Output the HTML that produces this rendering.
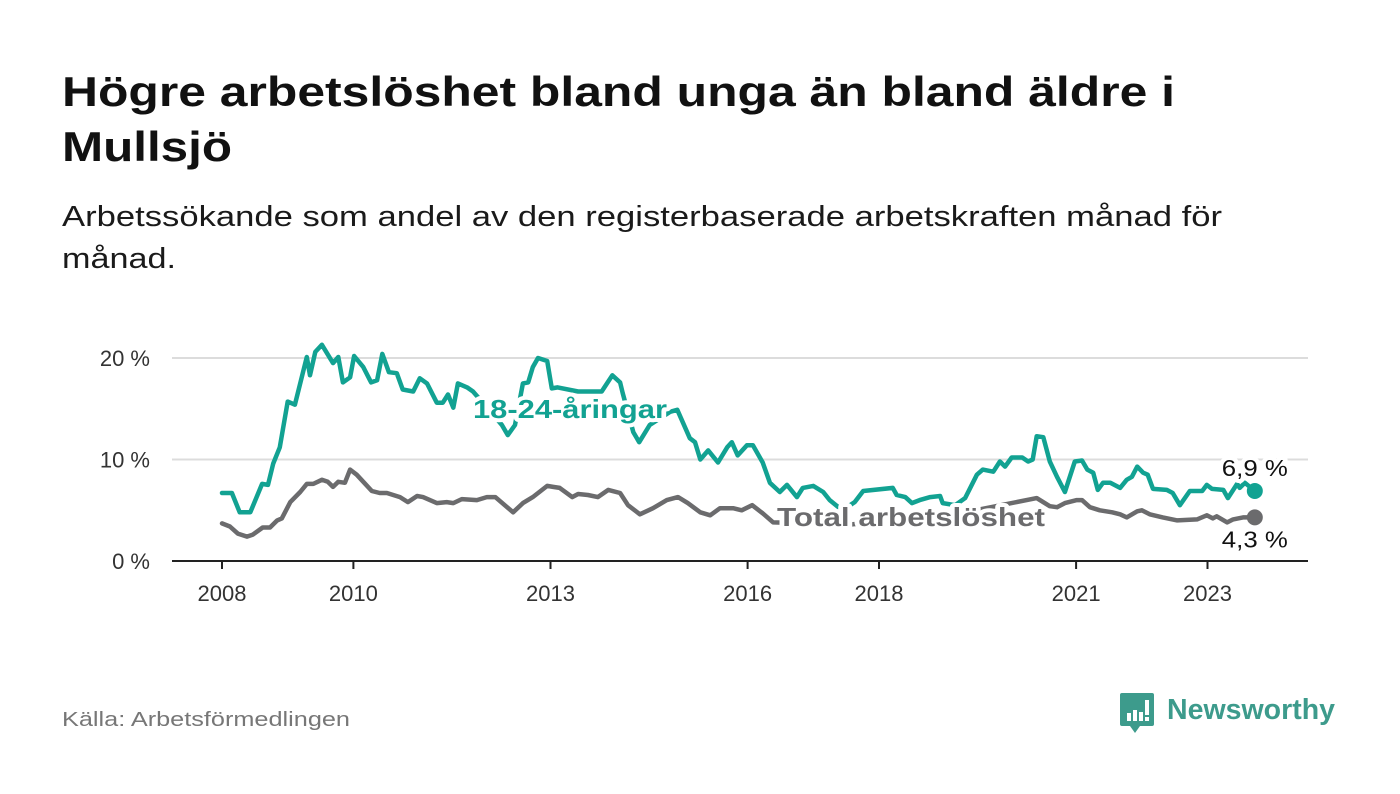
<!DOCTYPE html>
<html><head><meta charset="utf-8"><style>
html,body{margin:0;padding:0;background:#fff;}
svg{display:block;font-family:"Liberation Sans","DejaVu Sans",sans-serif;}
</style></head><body>
<svg id="chart" width="1400" height="794" viewBox="0 0 1400 794">
<text x="62" y="106" font-size="42" font-weight="bold" fill="#111" textLength="1113" lengthAdjust="spacingAndGlyphs">Högre arbetslöshet bland unga än bland äldre i</text>
<text x="62" y="161" font-size="42" font-weight="bold" fill="#111" textLength="170" lengthAdjust="spacingAndGlyphs">Mullsjö</text>
<text x="62" y="226" font-size="29" fill="#1a1a1a" textLength="1160" lengthAdjust="spacingAndGlyphs">Arbetssökande som andel av den registerbaserade arbetskraften månad för</text>
<text x="62" y="268" font-size="29" fill="#1a1a1a" textLength="114" lengthAdjust="spacingAndGlyphs">månad.</text>
<g id="grid"></g>
<g id="yticks"></g>
<g id="xticks"></g>
<g id="lines"></g>
<g id="labels"></g>
<text x="62" y="726" font-size="20" fill="#777" textLength="288" lengthAdjust="spacingAndGlyphs">Källa: Arbetsförmedlingen</text>
<g>
<path d="M1122 693 h30 a2 2 0 0 1 2 2 v29 a2 2 0 0 1 -2 2 h-12 l-5 7 l-5 -7 h-8 a2 2 0 0 1 -2 -2 v-29 a2 2 0 0 1 2 -2z" fill="#3d9b8c"/>
<rect x="1127" y="713" width="4" height="8" fill="#fff"/><rect x="1133" y="710" width="4" height="11" fill="#fff"/><rect x="1139" y="712" width="4" height="9" fill="#fff"/><rect x="1145" y="700" width="4" height="15" fill="#fff"/><rect x="1145" y="717" width="4" height="4" fill="#fff"/>
<text x="1167" y="719" font-size="29" font-weight="bold" fill="#3d9b8c" textLength="168" lengthAdjust="spacingAndGlyphs">Newsworthy</text>
</g>
</svg>
<script>
const youngT=[0,0.15,0.27,0.43,0.61,0.70,0.78,0.88,1.00,1.11,1.29,1.34,1.42,1.52,1.69,1.77,1.84,1.95,2.01,2.15,2.27,2.36,2.44,2.54,2.66,2.75,2.91,3.01,3.12,3.27,3.36,3.44,3.52,3.59,3.73,3.82,4.05,4.26,4.35,4.46,4.58,4.66,4.73,4.81,4.95,5.02,5.11,5.42,5.78,5.94,6.06,6.10,6.26,6.35,6.51,6.82,6.93,7.12,7.20,7.28,7.40,7.55,7.69,7.76,7.85,7.99,8.08,8.23,8.34,8.49,8.60,8.75,8.84,9.00,9.15,9.25,9.44,9.63,9.76,10.21,10.27,10.40,10.50,10.62,10.78,10.93,10.97,11.16,11.31,11.49,11.58,11.74,11.84,11.92,12.02,12.18,12.27,12.34,12.40,12.50,12.60,12.71,12.83,12.98,13.09,13.17,13.26,13.33,13.41,13.52,13.67,13.77,13.85,13.93,14.02,14.09,14.17,14.38,14.47,14.58,14.73,14.92,14.99,15.07,15.24,15.31,15.45,15.49,15.57,15.72];
const youngV=[6.7,6.7,4.8,4.8,7.6,7.5,9.6,11.2,15.7,15.4,20.1,18.3,20.6,21.3,19.5,20.1,17.6,18.1,20.2,19.1,17.6,17.8,20.4,18.6,18.5,16.9,16.7,18.0,17.5,15.6,15.6,16.4,15.1,17.5,17.1,16.7,15.0,13.4,12.4,13.4,17.5,17.6,19.1,20.0,19.7,17.0,17.1,16.7,16.7,18.3,17.6,16.5,12.7,11.7,13.4,14.7,14.9,12.1,11.7,10.0,10.9,9.7,11.2,11.7,10.4,11.4,11.4,9.7,7.7,6.8,7.5,6.3,7.2,7.4,6.8,6.0,5.0,5.8,6.9,7.2,6.5,6.3,5.7,6.0,6.3,6.4,5.7,5.5,6.2,8.5,9.0,8.8,9.8,9.3,10.2,10.2,9.8,10.0,12.3,12.2,9.8,8.3,6.8,9.8,9.9,9.0,8.7,7.0,7.7,7.7,7.2,8.0,8.3,9.3,8.7,8.5,7.1,7.0,6.7,5.5,6.9,6.9,7.5,7.1,7.0,6.2,7.6,7.2,7.7,6.9];
const totalT=[0,0.12,0.24,0.38,0.47,0.62,0.73,0.84,0.91,1.04,1.19,1.29,1.39,1.52,1.61,1.69,1.77,1.87,1.95,2.05,2.15,2.28,2.40,2.51,2.71,2.83,2.97,3.06,3.27,3.42,3.52,3.65,3.88,4.03,4.16,4.43,4.58,4.73,4.95,5.04,5.14,5.33,5.42,5.57,5.72,5.88,6.06,6.18,6.36,6.56,6.77,6.94,7.09,7.28,7.43,7.58,7.78,7.91,8.07,8.23,8.39,9.56,11.08,12.40,12.60,12.71,12.83,13.01,13.09,13.21,13.36,13.55,13.67,13.77,13.93,14.00,14.12,14.32,14.54,14.84,14.99,15.08,15.14,15.30,15.39,15.54,15.72];
const totalV=[3.7,3.4,2.7,2.4,2.6,3.3,3.3,4.0,4.2,5.8,6.8,7.6,7.6,8.0,7.8,7.3,7.8,7.7,9.0,8.5,7.8,6.9,6.7,6.7,6.3,5.8,6.4,6.3,5.7,5.8,5.7,6.1,6.0,6.3,6.3,4.8,5.7,6.3,7.4,7.3,7.2,6.3,6.6,6.5,6.3,7.0,6.7,5.5,4.6,5.2,6.0,6.3,5.7,4.8,4.5,5.2,5.2,5.0,5.5,4.7,3.8,3.6,4.5,6.2,5.4,5.3,5.7,6.0,6.0,5.3,5.0,4.8,4.6,4.3,4.9,5.0,4.6,4.3,4.0,4.1,4.5,4.2,4.4,3.8,4.1,4.3,4.3];
const yTicks=[0,10,20];
const yTickLabels=["0 %","10 %","20 %"];
const xTicks=[2008,2010,2013,2016,2018,2021,2023];
const NS='http://www.w3.org/2000/svg';
function X(t){return 222+t*65.7;}
function XY(yr){return X(yr-2008);}
function Y(v){return 561-v*10.15;}
function mk(tag,attrs,parent){const e=document.createElementNS(NS,tag);for(const k in attrs)e.setAttribute(k,attrs[k]);parent.appendChild(e);return e;}
const grid=document.getElementById('grid'),yt=document.getElementById('yticks'),xt=document.getElementById('xticks'),lines=document.getElementById('lines'),labels=document.getElementById('labels');
yTicks.forEach((v,i)=>{
  if(v>0){const g=mk('line',{x1:172,x2:1308,y1:Y(v),y2:Y(v),stroke:'#dcdcdc','stroke-width':2},grid);
  
  }
  const t=mk('text',{x:150,y:Y(v)+8,'text-anchor':'end','font-size':22,fill:'#333'},yt);
  t.textContent=yTickLabels[i];
  
  
});
const ax=mk('line',{x1:172,x2:1308,y1:561,y2:561,stroke:'#222','stroke-width':2},xt);


xTicks.forEach(yr=>{
  const x=XY(yr);
  const tk=mk('line',{x1:x,x2:x,y1:561,y2:569,stroke:'#222','stroke-width':2},xt);
  
  
  const t=mk('text',{x:x,y:601,'text-anchor':'middle','font-size':22,fill:'#333'},xt);
  t.textContent=yr;
  
  
});
function line(T,V,col,name){
  const d=T.map((t,i)=>(i?'L':'M')+X(t).toFixed(1)+' '+Y(V[i]).toFixed(1)).join(' ');
  const p=mk('path',{d:d,fill:'none',stroke:col,'stroke-width':4.5,'stroke-linejoin':'round','stroke-linecap':'round'},lines);
  
  
  const n=T.length-1;
  const c=mk('circle',{cx:X(T[n]),cy:Y(V[n]),r:8,fill:col},lines);
  
  
}
line(totalT,totalV,'#6b6b6d','total-line');
line(youngT,youngV,'#12a292','youth-line');
function lab(x,y,txt,col,size,bold,anchor,name,len){
  const a={x:x,y:y,'text-anchor':anchor,'font-size':size,'font-weight':bold?'bold':'normal',fill:col,stroke:'#fff','stroke-width':8,'stroke-linejoin':'round','paint-order':'stroke'};
  if(len){a.textLength=len;a.lengthAdjust='spacingAndGlyphs';}
  const t=mk('text',a,labels);
  t.textContent=txt;
  
  
}
lab(570,418,'18-24-åringar','#12a292',26,true,'middle','youth-series-label',194);
lab(911,526,'Total arbetslöshet','#6b6b6d',26,true,'middle','total-series-label',268);
const n1=youngV.length-1,n2=totalV.length-1;
lab(X(youngT[n1]),Y(youngV[n1])-15,youngV[n1].toFixed(1).replace('.',',')+' %','#111',23,false,'middle','youth-last-value',66);
lab(X(totalT[n2]),Y(totalV[n2])+30,totalV[n2].toFixed(1).replace('.',',')+' %','#111',23,false,'middle','total-last-value',66);
</script>
</body></html>
